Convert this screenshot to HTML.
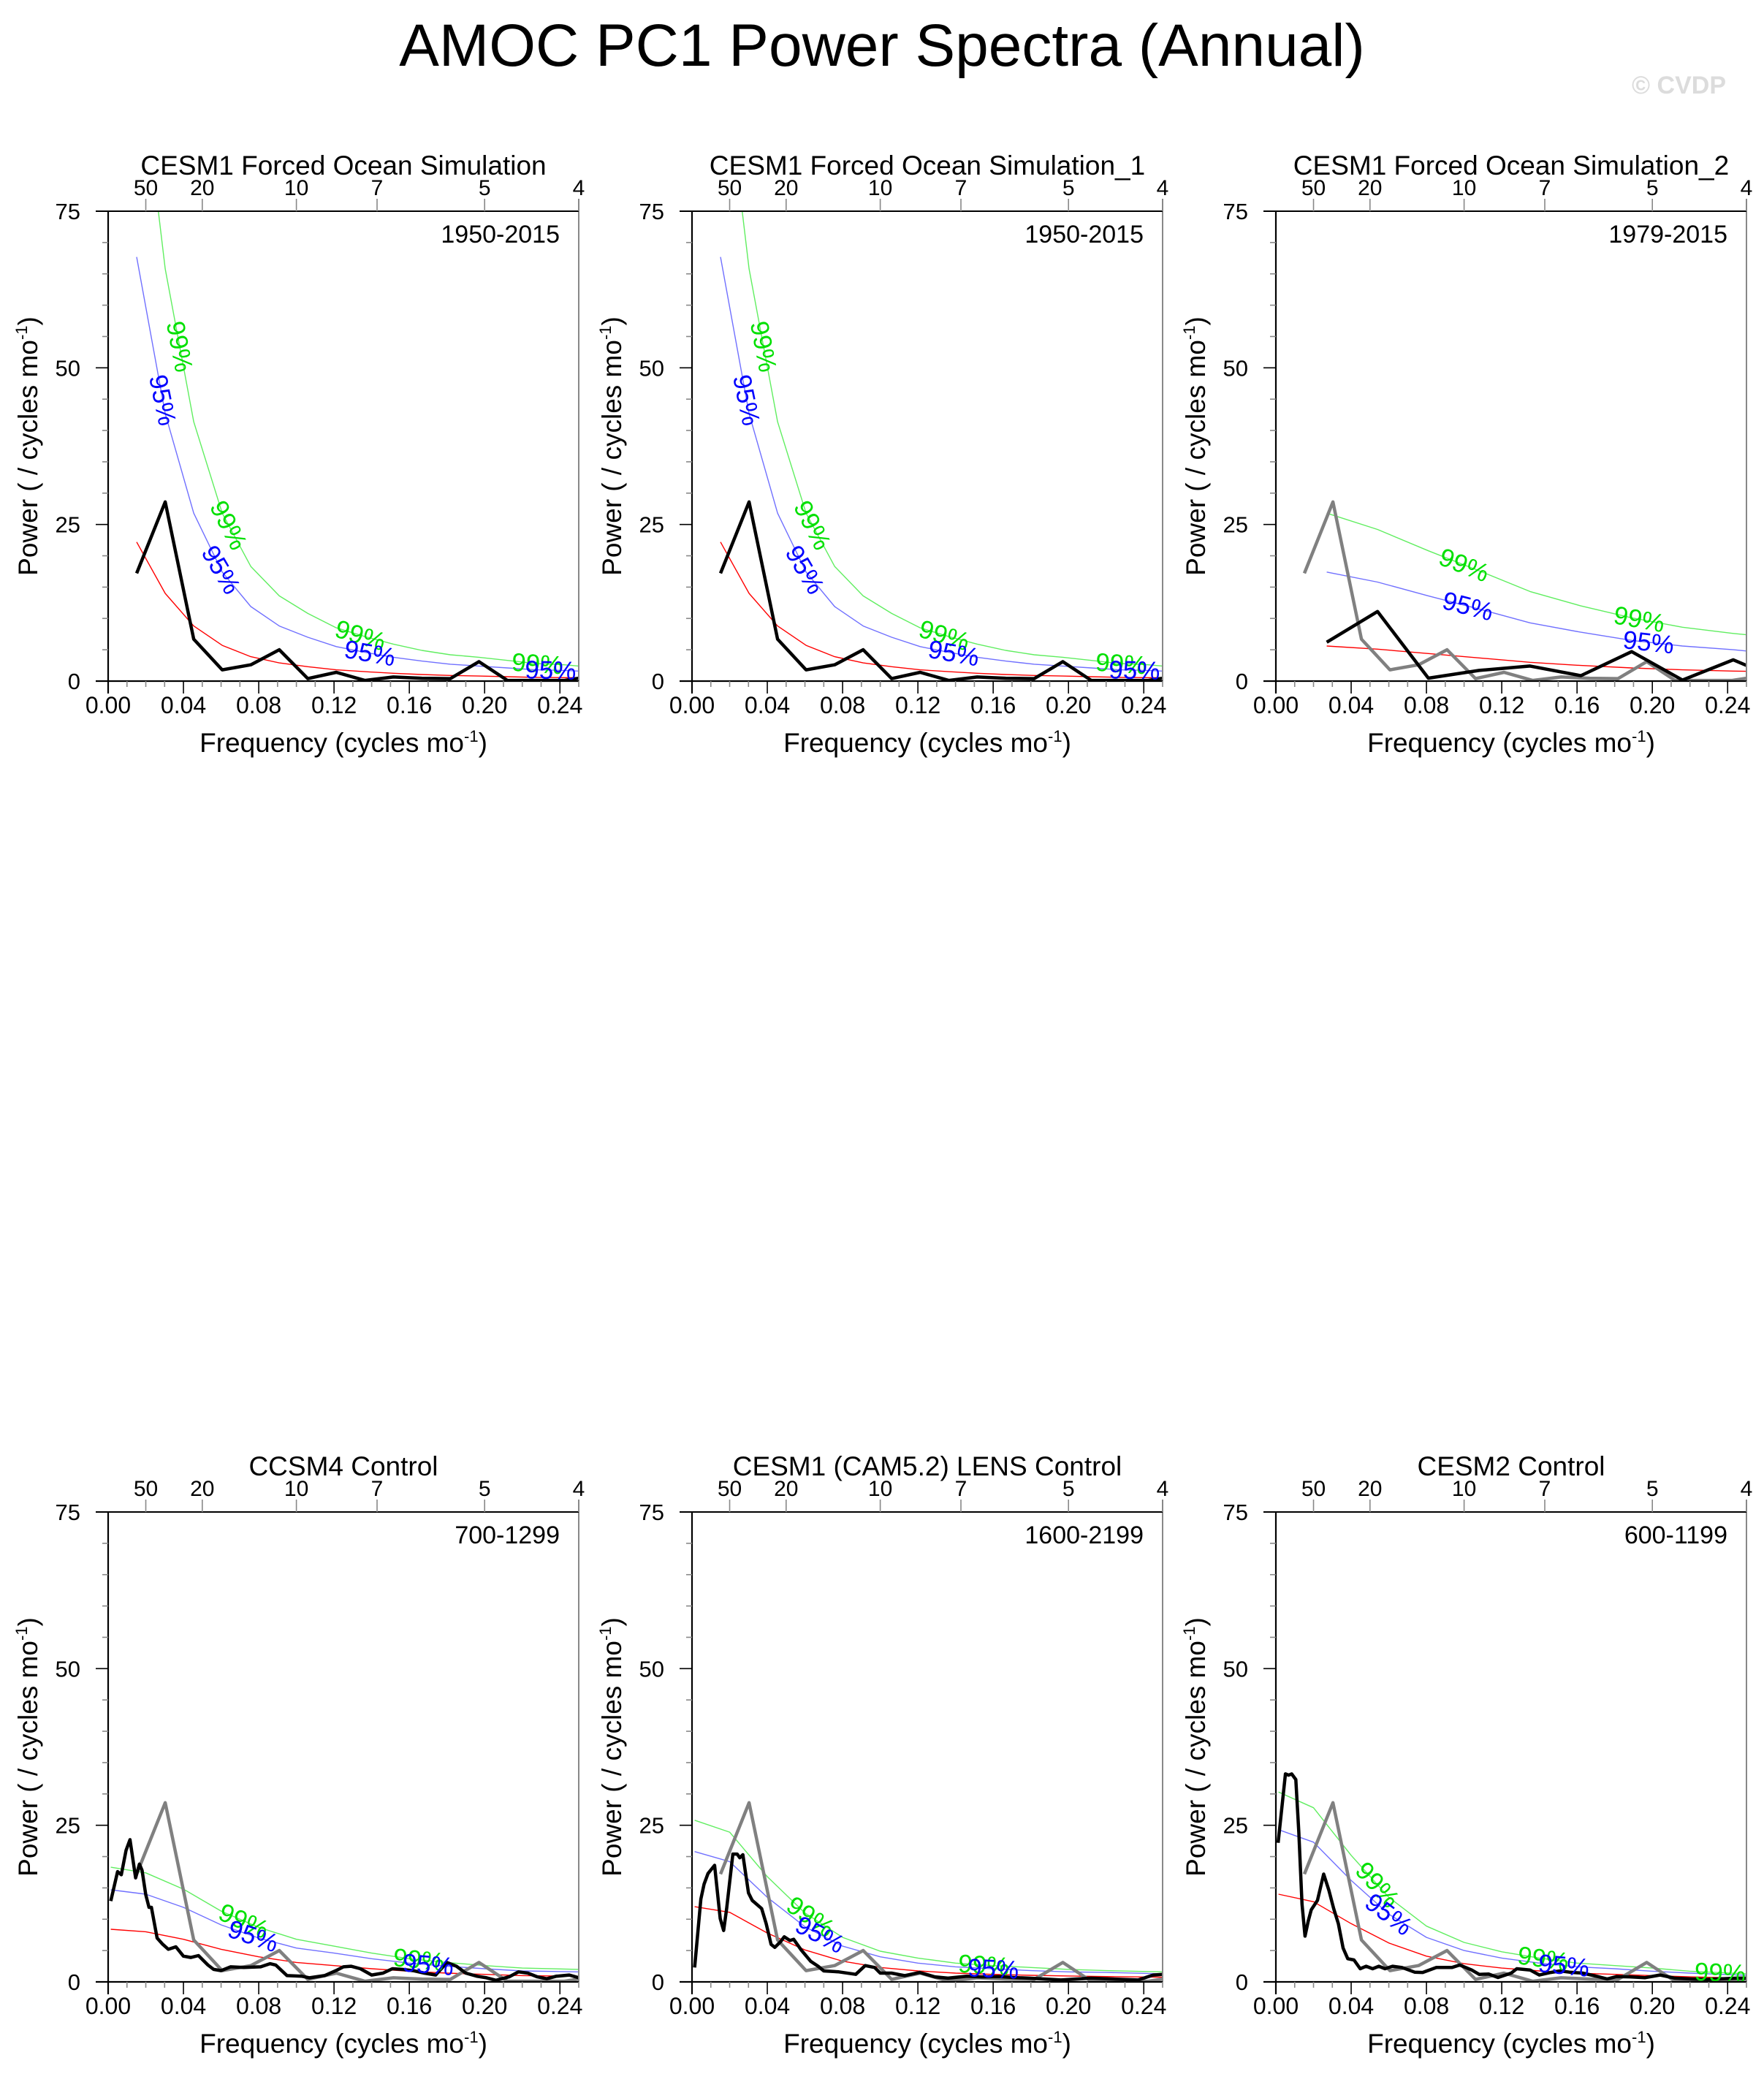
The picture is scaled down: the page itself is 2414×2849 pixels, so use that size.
<!DOCTYPE html>
<html><head><meta charset="utf-8"><style>
html,body{margin:0;padding:0;background:#fff;}
svg{display:block;font-family:"Liberation Sans",sans-serif;}
</style></head>
<body>
<svg id="fig" width="2414" height="2849" viewBox="0 0 2414 2849" xmlns="http://www.w3.org/2000/svg">
<text x="1207" y="90" font-size="82" text-anchor="middle" fill="#000">AMOC PC1 Power Spectra (Annual)</text>
<text x="2362" y="128" font-size="34" font-weight="bold" text-anchor="end" fill="#dcdcdc">© CVDP</text>
</svg>
<script>
// ---- data ----
const obsF = [0.01515,0.0303,0.04545,0.0606,0.07576,0.0909,0.10606,0.1212,0.13636,0.1515,0.16667,0.1818,0.19697,0.2121,0.22727,0.2424,0.25];
const obsP = [17.2,28.6,6.7,1.8,2.6,5.0,0.4,1.4,0.1,0.65,0.45,0.4,3.1,0.1,0.1,0.1,0.45];
const obsRed = [22.2,14.0,8.8,5.7,3.9,2.9,2.3,1.8,1.5,1.25,1.05,0.9,0.8,0.7,0.6,0.55,0.52];
const obsB95 = [67.7,42.7,26.8,17.4,11.9,8.8,7.0,5.5,4.6,3.8,3.2,2.7,2.4,2.1,1.8,1.7,1.6];
const obsG99 = [104,65.8,41.4,26.8,18.3,13.6,10.8,8.5,7.1,5.9,4.9,4.2,3.8,3.3,2.8,2.6,2.4];

const p3F = [0.027,0.054,0.081,0.108,0.135,0.162,0.189,0.216,0.243,0.25];
const p3P = [6.2,11.1,0.47,1.7,2.4,0.86,4.7,0.16,3.4,2.5];
const p3Red = [5.6,5.1,4.4,3.7,3.0,2.5,2.1,1.8,1.6,1.56];
const p3B95 = [17.4,15.8,13.6,11.5,9.3,7.8,6.5,5.6,5.0,4.8];
const p3G99 = [26.8,24.2,20.8,17.6,14.3,12.0,10.1,8.6,7.6,7.4];

const ctlF = [0.0014,0.02,0.04,0.06,0.08,0.10,0.12,0.14,0.16,0.18,0.20,0.22,0.25];
const p4Red = [8.4,8.0,6.8,5.2,4.0,3.1,2.6,2.1,1.7,1.4,1.2,1.0,0.9];
const p4B95 = [14.7,14.0,11.9,9.1,7.0,5.4,4.6,3.7,3.0,2.5,2.1,1.75,1.6];
const p4G99 = [18.3,17.4,14.8,11.3,8.7,6.8,5.7,4.6,3.7,3.1,2.6,2.2,2.0];
const p5Red = [12.0,11.1,7.8,5.1,3.3,2.3,1.75,1.4,1.2,1.05,0.95,0.85,0.75];
const p5B95 = [20.8,19.2,13.5,8.8,5.7,4.0,3.0,2.4,2.1,1.8,1.6,1.5,1.3];
const p5G99 = [25.8,23.9,16.8,11.0,7.1,4.9,3.8,3.0,2.6,2.3,2.0,1.8,1.6];
const p6Red = [14.0,12.8,9.3,6.2,4.1,2.9,2.2,1.75,1.4,1.2,1.0,0.8,0.6];
const p6B95 = [24.3,22.3,16.2,10.8,7.1,5.0,3.8,3.0,2.4,2.1,1.7,1.4,1.05];
const p6G99 = [30.3,27.8,20.2,13.5,8.9,6.3,4.8,3.8,3.0,2.6,2.2,1.7,1.3];

const p4F = [0.0014,0.005,0.007,0.0095,0.0116,0.0146,0.0166,0.018,0.020,0.0217,0.023,0.026,0.029,0.032,0.036,0.040,0.044,0.048,0.053,0.056,0.060,0.065,0.072,0.081,0.086,0.089,0.095,0.103,0.107,0.115,0.121,0.125,0.129,0.134,0.140,0.146,0.151,0.156,0.162,0.168,0.174,0.180,0.185,0.190,0.196,0.201,0.206,0.213,0.218,0.223,0.228,0.233,0.238,0.245,0.25];
const p4P = [12.9,17.6,17.1,21,22.7,16.6,18.8,17.8,13.9,11.9,11.9,7,6,5.2,5.6,4.1,3.9,4.2,2.7,2,1.8,2.4,2.3,2.4,2.9,2.7,1.0,0.9,0.65,1.0,1.8,2.4,2.5,2.1,1.1,1.4,2.1,2.0,1.8,1.4,1.1,3.1,2.5,1.4,0.9,0.65,0.26,0.8,1.6,1.4,0.8,0.5,0.9,1.1,0.65];
const p5F = [0.0014,0.0047,0.0064,0.0085,0.012,0.015,0.0168,0.0184,0.0217,0.024,0.0254,0.027,0.030,0.032,0.037,0.0394,0.042,0.044,0.047,0.049,0.052,0.054,0.058,0.063,0.067,0.070,0.078,0.087,0.092,0.097,0.100,0.106,0.113,0.121,0.129,0.136,0.146,0.154,0.163,0.171,0.179,0.196,0.212,0.229,0.237,0.245,0.25];
const p5P = [2.3,13.2,15.6,17.3,18.6,10.1,8.2,11.7,20.4,20.4,19.8,20.3,14.2,13.0,11.7,9.3,6.0,5.5,6.4,7.2,6.6,6.8,5.1,3.3,2.5,1.75,1.6,1.2,2.6,2.3,1.4,1.4,1.0,1.5,0.8,0.6,0.9,0.8,0.85,0.7,0.6,0.3,0.6,0.4,0.3,1.1,1.2];
const p6F = [0.0012,0.0051,0.0068,0.0084,0.0106,0.0122,0.0139,0.0155,0.0172,0.0188,0.0221,0.0254,0.0282,0.0307,0.0332,0.0357,0.0382,0.0415,0.0448,0.048,0.0514,0.0547,0.058,0.062,0.067,0.0737,0.078,0.0853,0.0935,0.0977,0.104,0.108,0.113,0.118,0.125,0.128,0.135,0.140,0.146,0.151,0.156,0.163,0.171,0.176,0.181,0.188,0.196,0.204,0.212,0.221,0.229,0.237,0.245,0.25];
const p6P = [22.2,33.2,33.0,33.2,32.3,23.9,12.4,7.3,9.7,11.5,13.0,17.2,14.6,11.7,9.3,5.4,3.7,3.5,2.1,2.5,2.1,2.5,2.1,2.5,2.3,1.55,1.5,2.3,2.3,2.7,1.9,1.2,1.25,0.7,1.4,2.1,1.9,1.1,1.5,1.75,1.55,1.4,0.85,0.47,0.85,0.8,0.66,1.1,0.6,0.47,0.4,0.5,0.6,0.6];

const xTicks = [0,0.04,0.08,0.12,0.16,0.20,0.24];
const xTickLabels = ["0.00","0.04","0.08","0.12","0.16","0.20","0.24"];
const yTicks = [0,25,50,75];
const periods = [50,20,10,7,5,4];

// ---- layout ----
const NS = "http://www.w3.org/2000/svg";
const svg = document.getElementById('fig');
const W = 644, H = 643, XMAX = 0.25, YMAX = 75;
function mk(tag, attrs, parent){ const e=document.createElementNS(NS,tag); for(const k in attrs) e.setAttribute(k,attrs[k]); (parent||svg).appendChild(e); return e; }

const panels = [
 {L:148,T:289,title:"CESM1 Forced Ocean Simulation",yr:"1950-2015",black:[obsF,obsP],gray:null,rf:obsF,red:obsRed,b95:obsB95,g99:obsG99,l99:[0.038,0.064,0.134,0.228],l95:[0.029,0.06,0.139,0.235]},
 {L:947,T:289,title:"CESM1 Forced Ocean Simulation_1",yr:"1950-2015",black:[obsF,obsP],gray:null,rf:obsF,red:obsRed,b95:obsB95,g99:obsG99,l99:[0.038,0.064,0.134,0.228],l95:[0.029,0.06,0.139,0.235]},
 {L:1746,T:289,title:"CESM1 Forced Ocean Simulation_2",yr:"1979-2015",black:[p3F,p3P],gray:[obsF,obsP],rf:p3F,red:p3Red,b95:p3B95,g99:p3G99,l99:[0.10,0.193],l95:[0.102,0.198]},
 {L:148,T:2069,title:"CCSM4 Control",yr:"700-1299",black:[p4F,p4P],gray:[obsF,obsP],rf:ctlF,red:p4Red,b95:p4B95,g99:p4G99,l99:[0.072,0.165],l95:[0.077,0.17]},
 {L:947,T:2069,title:"CESM1 (CAM5.2) LENS Control",yr:"1600-2199",black:[p5F,p5P],gray:[obsF,obsP],rf:ctlF,red:p5Red,b95:p5B95,g99:p5G99,l99:[0.063,0.155],l95:[0.068,0.16]},
 {L:1746,T:2069,title:"CESM2 Control",yr:"600-1199",black:[p6F,p6P],gray:[obsF,obsP],rf:ctlF,red:p6Red,b95:p6B95,g99:p6G99,l99:[0.054,0.142,0.236],l95:[0.06,0.153]}
];

function interp(xs, ys, x){
  if(x<=xs[0]) return ys[0];
  for(let i=1;i<xs.length;i++){ if(x<=xs[i]){ const t=(x-xs[i-1])/(xs[i]-xs[i-1]); return ys[i-1]+t*(ys[i]-ys[i-1]); } }
  return ys[ys.length-1];
}

panels.forEach((p,pi)=>{
  const L=p.L, T=p.T, R=L+W, B=T+H;
  const xs = f => L + f/XMAX*W;
  const ys = v => B - v/YMAX*H;
  const g = mk('g',{});
  
  
  const clipId='clip'+pi;
  const cp = mk('clipPath',{id:clipId},g);
  mk('rect',{x:L,y:T,width:W,height:H},cp);

  const tt = mk('text',{x:L+W/2,y:T-50,'font-size':37,'text-anchor':'middle',fill:'#000'},g);
  tt.textContent=p.title;
  
  
  const yl = mk('text',{x:R-26,y:T+43,'font-size':34,'text-anchor':'end',fill:'#000'},g);
  yl.textContent=p.yr;
  
  

  const cg = mk('g',{'clip-path':'url(#'+clipId+')'},g);
  function line(fa, va, color, w, name){
    let d=''; fa.forEach((f,i)=>{ d+=(i?'L':'M')+xs(f).toFixed(1)+','+ys(va[i]).toFixed(1); });
    const e = mk('path',{d:d,fill:'none',stroke:color,'stroke-width':w,'stroke-linejoin':'round'},cg);
    
    
    return e;
  }
  line(p.rf,p.red,'#ff0000',1.4,'red-noise-line');
  line(p.rf,p.b95,'#7070ff',1.4,'conf-95-line');
  line(p.rf,p.g99,'#60ee60',1.4,'conf-99-line');
  if(p.gray) line(p.gray[0],p.gray[1],'#808080',4.5,'observed-spectrum-line');
  line(p.black[0],p.black[1],'#000000',4.5,'model-spectrum-line');

  function lab(f, fa, va, txt, color){
    const y0=ys(interp(fa,va,f-0.004)), y1=ys(interp(fa,va,f+0.004));
    const x0=xs(f-0.004), x1=xs(f+0.004);
    const ang=Math.atan2(y1-y0,x1-x0)*180/Math.PI;
    const x=xs(f), y=ys(interp(fa,va,f));
    if(y<T+10) return;
    const t = mk('text',{x:0,y:12,'font-size':35,'text-anchor':'middle',fill:color,transform:'translate('+x.toFixed(1)+','+y.toFixed(1)+') rotate('+ang.toFixed(1)+')'},cg);
    t.textContent=txt;
    
    
  }
  p.l99.forEach(f=>lab(f,p.rf,p.g99,'99%','#00e000'));
  p.l95.forEach(f=>lab(f,p.rf,p.b95,'95%','#0000ff'));

  const ax = mk('g',{},g);
  
  
  mk('line',{x1:R,y1:T-17,x2:R,y2:B,stroke:'#888',"stroke-width":2},ax);
  mk('line',{x1:L-17,y1:T,x2:R,y2:T,stroke:'#000',"stroke-width":2},ax);
  mk('line',{x1:L-17,y1:B,x2:R,y2:B,stroke:'#000',"stroke-width":2.2},ax);
  mk('line',{x1:L,y1:T,x2:L,y2:B+17,stroke:'#000',"stroke-width":2.2},ax);
  for(let k=1;k<=25;k++){ const f=k*0.01, x=xs(f); const major=(k%4===0);
    mk('line',{x1:x,y1:B,x2:x,y2:B+(major?17:8),stroke:major?'#000':'#888',"stroke-width":1.6},ax); }
  for(let v=5;v<=75;v+=5){ const y=ys(v); const major=(v%25===0);
    mk('line',{x1:L,y1:y,x2:L-(major?17:8),y2:y,stroke:major?'#000':'#888',"stroke-width":1.6},ax); }
  xTicks.forEach((f,i)=>{
    const t=mk('text',{x:xs(f),y:B+44,'font-size':32,'text-anchor':'middle',fill:'#000'},ax);
    t.textContent=xTickLabels[i];
    
    
  });
  yTicks.forEach(v=>{
    const t=mk('text',{x:L-38,y:ys(v)+11,'font-size':31,'text-anchor':'end',fill:'#000'},ax);
    t.textContent=String(v);
    
    
  });
  periods.forEach(per=>{
    const x=xs(1/per);
    mk('line',{x1:x,y1:T,x2:x,y2:T-17,stroke:'#888',"stroke-width":1.6},ax);
    const t=mk('text',{x:x,y:T-22,'font-size':30,'text-anchor':'middle',fill:'#000'},ax);
    t.textContent=String(per);
    
    
  });
  const xt=mk('text',{x:L+W/2,y:B+97,'font-size':37,'text-anchor':'middle',fill:'#000'},ax);
  xt.innerHTML='Frequency (cycles mo<tspan font-size="22" dy="-14">-1</tspan><tspan dy="14">)</tspan>';
  
  
  const yt=mk('text',{x:0,y:0,'font-size':37,'text-anchor':'middle',fill:'#000',transform:'translate('+(L-97)+','+(T+H/2)+') rotate(-90)'},ax);
  yt.innerHTML='Power ( / cycles mo<tspan font-size="22" dy="-14">-1</tspan><tspan dy="14">)</tspan>';
  
  
});
</script>
</body></html>
